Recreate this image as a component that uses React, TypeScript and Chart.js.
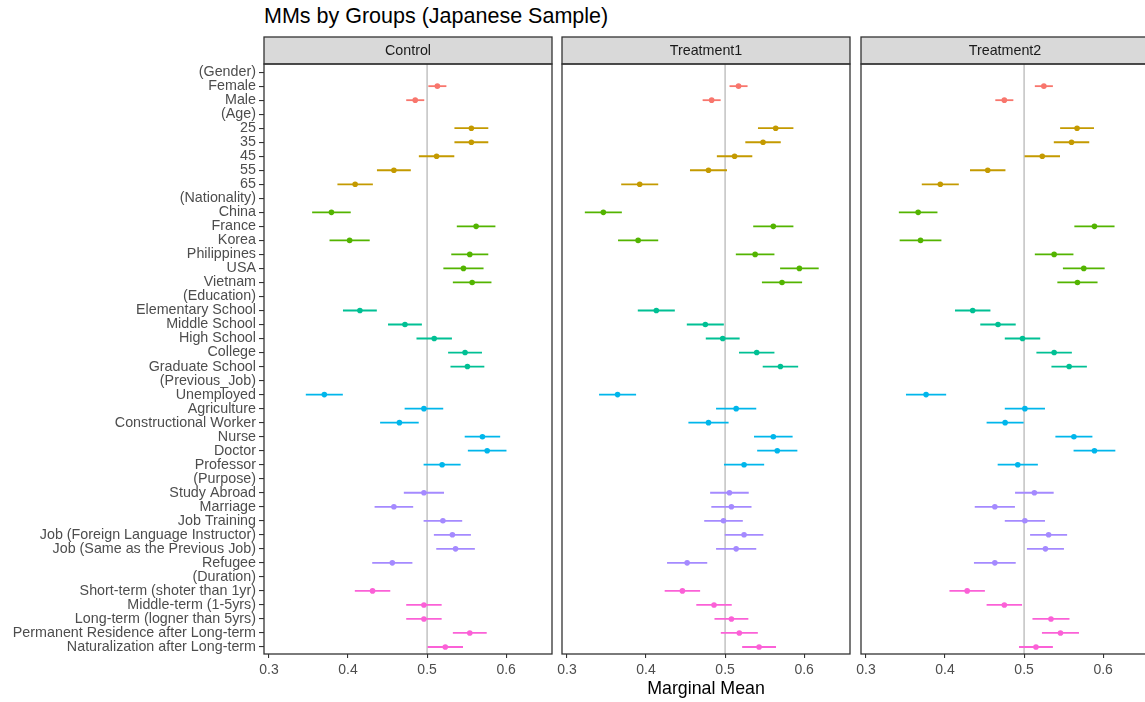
import React, { useEffect, useRef } from "react";
import { Chart, registerables } from "chart.js";

Chart.register(...registerables);

const chartTitle = "MMs by Groups (Japanese Sample)";
const xAxisTitle = "Marginal Mean";
const panelNames = ["Control", "Treatment1", "Treatment2"];

const categories = [
  "(Gender)", "Female", "Male",
  "(Age)", "25", "35", "45", "55", "65",
  "(Nationality)", "China", "France", "Korea", "Philippines", "USA", "Vietnam",
  "(Education)", "Elementary School", "Middle School", "High School", "College", "Graduate School",
  "(Previous_Job)", "Unemployed", "Agriculture", "Constructional Worker", "Nurse", "Doctor", "Professor",
  "(Purpose)", "Study Abroad", "Marriage", "Job Training", "Job (Foreign Language Instructor)",
  "Job (Same as the Previous Job)", "Refugee",
  "(Duration)", "Short-term (shoter than 1yr)", "Middle-term (1-5yrs)", "Long-term (logner than 5yrs)",
  "Permanent Residence after Long-term", "Naturalization after Long-term",
];

const controlMean = [
  null, 0.513, 0.485,
  null, 0.556, 0.556, 0.512, 0.458, 0.409,
  null, 0.379, 0.562, 0.402, 0.554, 0.546, 0.557,
  null, 0.415, 0.472, 0.509, 0.548, 0.551,
  null, 0.370, 0.496, 0.465, 0.570, 0.576, 0.519,
  null, 0.496, 0.458, 0.520, 0.532, 0.536, 0.456,
  null, 0.431, 0.496, 0.496, 0.554, 0.523,
];
const controlHalf = [
  null, 0.011, 0.011,
  null, 0.021, 0.021, 0.022, 0.021, 0.022,
  null, 0.024, 0.024, 0.025, 0.023, 0.025, 0.024,
  null, 0.021, 0.021, 0.022, 0.021, 0.021,
  null, 0.023, 0.024, 0.024, 0.022, 0.024, 0.023,
  null, 0.025, 0.024, 0.024, 0.023, 0.024, 0.025,
  null, 0.022, 0.022, 0.022, 0.021, 0.022,
];

const treatment1Mean = [
  null, 0.517, 0.483,
  null, 0.564, 0.548, 0.512, 0.479, 0.392,
  null, 0.346, 0.561, 0.390, 0.538, 0.594, 0.572,
  null, 0.413, 0.475, 0.497, 0.540, 0.570,
  null, 0.364, 0.514, 0.479, 0.561, 0.566, 0.524,
  null, 0.5055, 0.508, 0.498, 0.524, 0.514, 0.452,
  null, 0.446, 0.486, 0.508, 0.518, 0.543,
];
const treatment1Half = [
  null, 0.011, 0.011,
  null, 0.022, 0.022, 0.022, 0.023, 0.023,
  null, 0.023, 0.025, 0.025, 0.024, 0.024, 0.025,
  null, 0.023, 0.023, 0.021, 0.022, 0.022,
  null, 0.023, 0.025, 0.025, 0.024, 0.025, 0.025,
  null, 0.024, 0.025, 0.024, 0.024, 0.025, 0.025,
  null, 0.022, 0.022, 0.021, 0.023, 0.021,
];

const treatment2Mean = [
  null, 0.525, 0.475,
  null, 0.567, 0.560, 0.523, 0.454, 0.394,
  null, 0.366, 0.589, 0.369, 0.538, 0.5755, 0.5675,
  null, 0.435, 0.467, 0.498, 0.538, 0.557,
  null, 0.376, 0.501, 0.476, 0.563, 0.589, 0.492,
  null, 0.513, 0.463, 0.501, 0.531, 0.527, 0.463,
  null, 0.428, 0.475, 0.534, 0.546, 0.515,
];
const treatment2Half = [
  null, 0.011, 0.011,
  null, 0.021, 0.022, 0.022, 0.022, 0.023,
  null, 0.024, 0.025, 0.026, 0.024, 0.026, 0.025,
  null, 0.022, 0.022, 0.022, 0.022, 0.022,
  null, 0.025, 0.025, 0.023, 0.023, 0.026, 0.025,
  null, 0.024, 0.025, 0.025, 0.023, 0.023, 0.026,
  null, 0.022, 0.022, 0.023, 0.023, 0.021,
];

const groupColors = ["#F8766D", "#C49A00", "#53B400", "#00C094", "#00B6EB", "#A58AFF", "#FB61D7"];
const xTickValues = [0.3, 0.4, 0.5, 0.6];
const xMin = 0.2937;
const xMax = 0.658;
const referenceValue = 0.5;

const panelMeans = [controlMean, treatment1Mean, treatment2Mean];
const panelHalves = [controlHalf, treatment1Half, treatment2Half];

// group index for each row: a header row "(...)" starts a new group
const rowGroup: number[] = [];
{
  let g = -1;
  categories.forEach((c) => {
    if (c.startsWith("(")) g += 1;
    rowGroup.push(g);
  });
}

const FONT = "'Liberation Sans', Arial, Helvetica, sans-serif";
const PAGE_W = 1145;
const PAGE_H = 702;
const PLOT_TOP = 64;
const PLOT_BOTTOM = 654;
const STRIP_TOP = 37;

const panelPlugin = {
  id: "panelDeco",
  beforeDatasetsDraw(chart: any, _args: any, opts: any) {
    const { ctx, chartArea, scales } = chart;
    const x = scales.x.getPixelForValue(opts.refValue);
    ctx.save();
    ctx.strokeStyle = "#BEBEBE";
    ctx.lineWidth = 1.4;
    ctx.beginPath();
    ctx.moveTo(x, chartArea.top);
    ctx.lineTo(x, chartArea.bottom);
    ctx.stroke();
    ctx.restore();
  },
  afterDraw(chart: any, _args: any, opts: any) {
    const { ctx, chartArea } = chart;
    const { left, right, top, bottom } = chartArea;
    ctx.save();
    ctx.fillStyle = "#D9D9D9";
    ctx.fillRect(left, opts.stripTop, right - left, top - opts.stripTop);
    ctx.strokeStyle = "#333333";
    ctx.lineWidth = 1.3;
    ctx.strokeRect(left, opts.stripTop, right - left, top - opts.stripTop);
    ctx.fillStyle = "#1A1A1A";
    ctx.font = `14.3px ${FONT}`;
    ctx.textAlign = "center";
    ctx.textBaseline = "middle";
    ctx.fillText(opts.label, (left + right) / 2, (opts.stripTop + top) / 2 + 1);
    ctx.strokeRect(left, top, right - left, bottom - top);
    ctx.restore();
  },
};

function makeConfig(pi: number, showY: boolean, showXTitle: boolean, padLeft: number, padRight: number) {
  const mean = panelMeans[pi];
  const half = panelHalves[pi];
  const ciData: any[] = [];
  const ptData: any[] = [];
  const colors: string[] = [];
  categories.forEach((_c, i) => {
    const m = mean[i];
    const h = half[i];
    if (m == null || h == null) return;
    ciData.push({ y: i, x: [m - h, m + h] });
    ptData.push({ x: m, y: i });
    colors.push(groupColors[rowGroup[i]]);
  });

  return {
    type: "bar",
    data: {
      datasets: [
        {
          type: "bar",
          data: ciData,
          backgroundColor: colors,
          borderWidth: 0,
          barThickness: 1.15,
          grouped: false,
        },
        {
          type: "scatter",
          data: ptData,
          pointBackgroundColor: colors,
          pointBorderWidth: 0,
          pointRadius: 2.8,
          showLine: false,
        },
      ],
    },
    options: {
      indexAxis: "y",
      responsive: false,
      animation: false,
      events: [],
      layout: { padding: { left: padLeft, right: padRight, top: PLOT_TOP, bottom: 0 } },
      plugins: {
        legend: { display: false },
        tooltip: { enabled: false },
        title: { display: false },
        panelDeco: { label: panelNames[pi], stripTop: STRIP_TOP, refValue: referenceValue },
      },
      scales: {
        x: {
          type: "linear",
          position: "bottom",
          offset: false,
          min: xMin,
          max: xMax,
          afterBuildTicks: (scale: any) => {
            scale.ticks = xTickValues.map((v) => ({ value: v }));
          },
          afterFit: (scale: any) => {
            scale.height = PAGE_H - PLOT_BOTTOM;
          },
          grid: {
            offset: false,
            drawOnChartArea: false,
            drawTicks: true,
            tickLength: 4,
            color: "#333333",
            lineWidth: 1.1,
          },
          border: { display: false },
          ticks: {
            color: "#4D4D4D",
            font: { family: FONT, size: 14 },
            padding: 4,
            autoSkip: false,
            maxRotation: 0,
            callback: (v: any) => String(v),
          },
          title: {
            display: showXTitle,
            text: xAxisTitle,
            color: "#000000",
            font: { family: FONT, size: 17.8 },
            padding: { top: 0, bottom: 2 },
          },
        },
        y: {
          type: "linear",
          position: "left",
          display: showY,
          offset: false,
          reverse: true,
          min: -0.58,
          max: categories.length - 1 + 0.5,
          afterBuildTicks: (scale: any) => {
            scale.ticks = categories.map((_c, i) => ({ value: i }));
          },
          afterFit: (scale: any) => {
            if (showY) scale.width = 264;
          },
          grid: {
            offset: false,
            drawOnChartArea: false,
            drawTicks: true,
            tickLength: 5,
            color: "#333333",
            lineWidth: 1.1,
          },
          border: { display: false },
          ticks: {
            color: "#4D4D4D",
            font: { family: FONT, size: 14.3 },
            padding: 3,
            autoSkip: false,
            callback: (v: any) => categories[v] ?? "",
          },
        },
      },
    },
    plugins: [panelPlugin],
  };
}

function Panel(props: { index: number; left: number; width: number; padLeft: number; padRight: number; showY: boolean; showXTitle: boolean }) {
  const ref = useRef<HTMLCanvasElement | null>(null);
  useEffect(() => {
    if (!ref.current) return;
    const chart = new Chart(
      ref.current,
      makeConfig(props.index, props.showY, props.showXTitle, props.padLeft, props.padRight) as any
    );
    return () => chart.destroy();
  }, []);
  return (
    <canvas
      ref={ref}
      width={props.width}
      height={PAGE_H}
      style={{ position: "absolute", left: props.left, top: 0, width: props.width, height: PAGE_H }}
    />
  );
}

export default function App() {
  return (
    <div
      style={{
        position: "fixed",
        left: 0,
        top: 0,
        width: PAGE_W,
        height: PAGE_H,
        overflow: "hidden",
        background: "#FFFFFF",
      }}
    >
      <div
        style={{
          position: "absolute",
          left: 264,
          top: 6,
          fontFamily: FONT,
          fontSize: 21.5,
          lineHeight: "21.5px",
          color: "#000000",
          whiteSpace: "nowrap",
        }}
      >
        {chartTitle}
      </div>
      <Panel index={0} left={0} width={560} padLeft={0} padRight={8} showY={true} showXTitle={false} />
      <Panel index={1} left={540} width={320} padLeft={22} padRight={10} showY={false} showXTitle={true} />
      <Panel index={2} left={839} width={320} padLeft={22} padRight={10} showY={false} showXTitle={false} />
    </div>
  );
}
